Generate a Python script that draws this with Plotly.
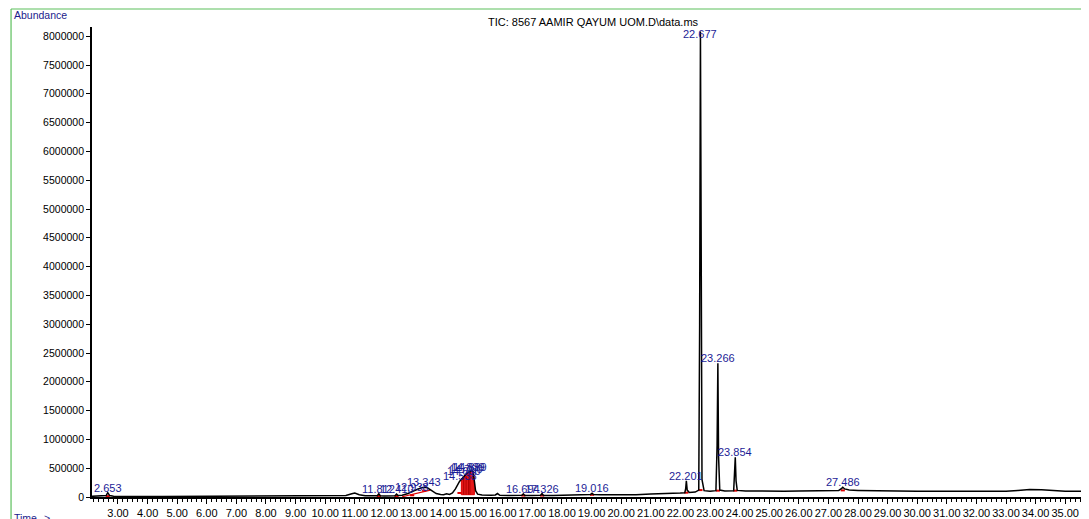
import plotly.graph_objects as go

# ---------------- data ----------------
tic_time = [
    2.12, 2.3, 2.5, 2.6, 2.653, 2.72, 2.85, 3.2, 3.6, 4.0, 4.5, 5.0, 5.5, 6.0, 6.5,
    7.0, 7.5, 8.0, 8.5, 9.0, 9.5, 10.0, 10.4, 10.7, 10.9, 11.0, 11.15, 11.35, 11.6,
    11.76, 11.812, 11.86, 12.0, 12.2, 12.36, 12.41, 12.46, 12.6, 12.8, 12.938, 13.1,
    13.25, 13.343, 13.45, 13.6, 13.75, 13.9, 14.0, 14.1, 14.2, 14.3, 14.4, 14.538,
    14.6, 14.68, 14.76, 14.839, 14.889, 14.95, 15.0, 15.04, 15.08, 15.15, 15.3, 15.6,
    15.75, 15.82, 15.9, 16.2, 16.5, 16.65, 16.694, 16.74, 17.0, 17.28, 17.326, 17.37,
    17.7, 18.0, 18.4, 18.7, 18.9, 18.97, 19.016, 19.06, 19.3, 19.7, 20.0, 20.5, 21.0,
    21.5, 21.8, 22.0, 22.15, 22.18, 22.201, 22.23, 22.3, 22.5, 22.62, 22.65, 22.677,
    22.70, 22.73, 22.8, 23.0, 23.2, 23.24, 23.266, 23.29, 23.33, 23.5, 23.8, 23.83,
    23.854, 23.88, 23.92, 24.2, 24.8, 25.5, 26.0, 26.5, 27.0, 27.35, 27.45, 27.486,
    27.55, 27.7, 28.0, 28.5, 29.0, 30.0, 31.0, 32.0, 33.0, 33.4, 33.8, 34.2, 34.6,
    35.0, 35.8,
]
tic_abundance = [
    12000, 14000, 18000, 25000, 75000, 25000, 15000, 10000, 9000, 10000, 8000, 9000,
    8000, 9000, 8000, 10000, 9000, 10000, 9000, 11000, 10000, 12000, 15000, 25000,
    55000, 70000, 40000, 22000, 20000, 22000, 55000, 22000, 18000, 18000, 22000,
    50000, 25000, 30000, 60000, 95000, 135000, 160000, 170000, 160000, 110000, 60000,
    45000, 40000, 55000, 45000, 70000, 140000, 270000, 310000, 360000, 400000,
    430000, 440000, 455000, 440000, 300000, 110000, 50000, 35000, 30000, 35000,
    60000, 30000, 25000, 25000, 30000, 55000, 28000, 25000, 30000, 60000, 28000,
    28000, 30000, 35000, 38000, 40000, 45000, 65000, 42000, 38000, 35000, 35000,
    40000, 50000, 55000, 60000, 70000, 75000, 150000, 280000, 120000, 80000, 85000,
    120000, 3000000, 8080000, 3500000, 300000, 110000, 100000, 110000, 900000,
    2320000, 700000, 120000, 105000, 110000, 350000, 690000, 280000, 115000, 105000,
    100000, 100000, 105000, 110000, 110000, 115000, 150000, 170000, 140000, 120000,
    115000, 110000, 105000, 100000, 100000, 100000, 102000, 115000, 130000, 128000,
    110000, 100000, 98000,
]

peak_times = [2.653, 11.812, 12.41, 12.938, 13.343, 14.538, 14.68, 14.76, 14.839,
              14.889, 16.694, 17.326, 19.016, 22.201, 22.677, 23.266, 23.854, 27.486]
peak_labels = ["2.653", "11.812", "12.410", "12.938", "13.343", "14.538", "14.680",
               "14.760", "14.839", "14.889", "16.694", "17.326", "19.016", "22.201",
               "22.677", "23.266", "23.854", "27.486"]

cluster_start, cluster_end, cluster_base = 14.6, 15.04, 40000
cluster_splits = [14.68, 14.76, 14.839, 14.889]
hump_baseline_t = [12.6, 13.55]
hump_baseline_a = [5000, 120000]

title_text = "TIC: 8567 AAMIR QAYUM UOM.D\\data.ms"
x_range = [2.122, 35.804]
y_max = 8160000

# ---------------- figure ----------------
FONT = "Liberation Sans, Arial, Helvetica, sans-serif"
BLUE = "#1c1c96"
RED = "#e00000"
lookup = dict(zip(tic_time, tic_abundance))

fig = go.Figure()

# red integration fill for the 14.5-15.0 cluster
cx = [t for t in tic_time if cluster_start <= t <= cluster_end]
cy = [lookup[t] for t in cx]
fig.add_trace(go.Scatter(
    x=[cx[0]] + cx + [cx[-1], cx[0]],
    y=[cluster_base] + cy + [cluster_base, cluster_base],
    fill="toself", fillcolor="rgba(225,0,0,0.9)", mode="lines",
    line=dict(color=RED, width=1), hoverinfo="skip"))
sx, sy = [], []
for t in cluster_splits:
    sx += [t, t, None]
    sy += [cluster_base, lookup[t], None]
fig.add_trace(go.Scatter(x=sx, y=sy, mode="lines",
                         line=dict(color="#b00000", width=1), hoverinfo="skip"))

# red integration baseline under the 13.343 hump
fig.add_trace(go.Scatter(x=hump_baseline_t, y=hump_baseline_a, mode="lines",
                         line=dict(color=RED, width=1.2), hoverinfo="skip"))

# small red base marks for the other integrated peaks
bx, by = [], []
for t in peak_times:
    if cluster_start <= t <= cluster_end:
        continue
    i = tic_time.index(t)
    b = min(tic_abundance[i - 2], tic_abundance[i + 2])
    bx += [t - 0.07, t + 0.07, None]
    by += [b, b, None]
fig.add_trace(go.Scatter(x=bx, y=by, mode="lines",
                         line=dict(color=RED, width=2), hoverinfo="skip"))

# the TIC trace
fig.add_trace(go.Scatter(x=tic_time, y=tic_abundance, mode="lines",
                         line=dict(color="black", width=1.5), hoverinfo="skip"))

annotations = []
for t, lab in zip(peak_times, peak_labels):
    a = lookup[t]
    if a > 0.97 * y_max:
        annotations.append(dict(x=t, y=y_max, xref="x", yref="y", text=lab,
                                showarrow=False, xanchor="center", yanchor="top",
                                yshift=1, font=dict(family=FONT, size=11, color=BLUE)))
    else:
        annotations.append(dict(x=t, y=a, xref="x", yref="y", text=lab,
                                showarrow=False, xanchor="center", yanchor="bottom",
                                yshift=-3, font=dict(family=FONT, size=11, color=BLUE)))

annotations += [
    dict(x=0.503, y=1.0106, xref="paper", yref="paper", text=title_text,
         showarrow=False, xanchor="center", yanchor="middle",
         font=dict(family=FONT, size=11, color="black")),
    dict(x=-0.0802, y=1.0255, xref="paper", yref="paper", text="Abundance",
         showarrow=False, xanchor="left", yanchor="middle",
         font=dict(family=FONT, size=10.5, color="#1a1a8c")),
    dict(x=-0.0802, y=-0.0447, xref="paper", yref="paper", text="Time-->",
         showarrow=False, xanchor="left", yanchor="middle",
         font=dict(family=FONT, size=10.5, color="#1a1a8c")),
]

GREEN = "#5cbf5c"
shapes = [
    dict(type="line", xref="paper", yref="paper", x0=-0.0812, x1=-0.0812,
         y0=-0.06, y1=1.0383, line=dict(color=GREEN, width=1.2)),
    dict(type="line", xref="paper", yref="paper", x0=-0.0812, x1=1.02,
         y0=1.0383, y1=1.0383, line=dict(color=GREEN, width=1.2)),
]

# the page body adds an 8 px margin, so the figure is laid out 8 px smaller/shifted
fig.update_layout(
    width=1081, height=511,
    margin=dict(l=84, r=0, t=19, b=22),
    plot_bgcolor="white", paper_bgcolor="white",
    showlegend=False,
    font=dict(family=FONT, size=11, color="black"),
    annotations=annotations, shapes=shapes,
    xaxis=dict(range=x_range, tickmode="linear", tick0=0, dtick=1,
               tickformat=".2f", ticks="outside", ticklen=5, tickwidth=1,
               tickcolor="black", showline=True, linecolor="black", linewidth=1.8,
               showgrid=False, zeroline=False,
               tickfont=dict(family=FONT, size=11, color="black"),
               minor=dict(ticks="outside", ticklen=3, tickwidth=1, tick0=0,
                          dtick=1 / 6, tickcolor="black", showgrid=False)),
    yaxis=dict(range=[0, y_max], tickmode="linear", tick0=0, dtick=500000,
               tickformat="d", ticks="outside", ticklen=4, tickwidth=1,
               tickcolor="black", showline=True, linecolor="black", linewidth=1.8,
               showgrid=False, zeroline=False,
               tickfont=dict(family=FONT, size=10.5, color="black")),
)

fig.write_html("out.html")
